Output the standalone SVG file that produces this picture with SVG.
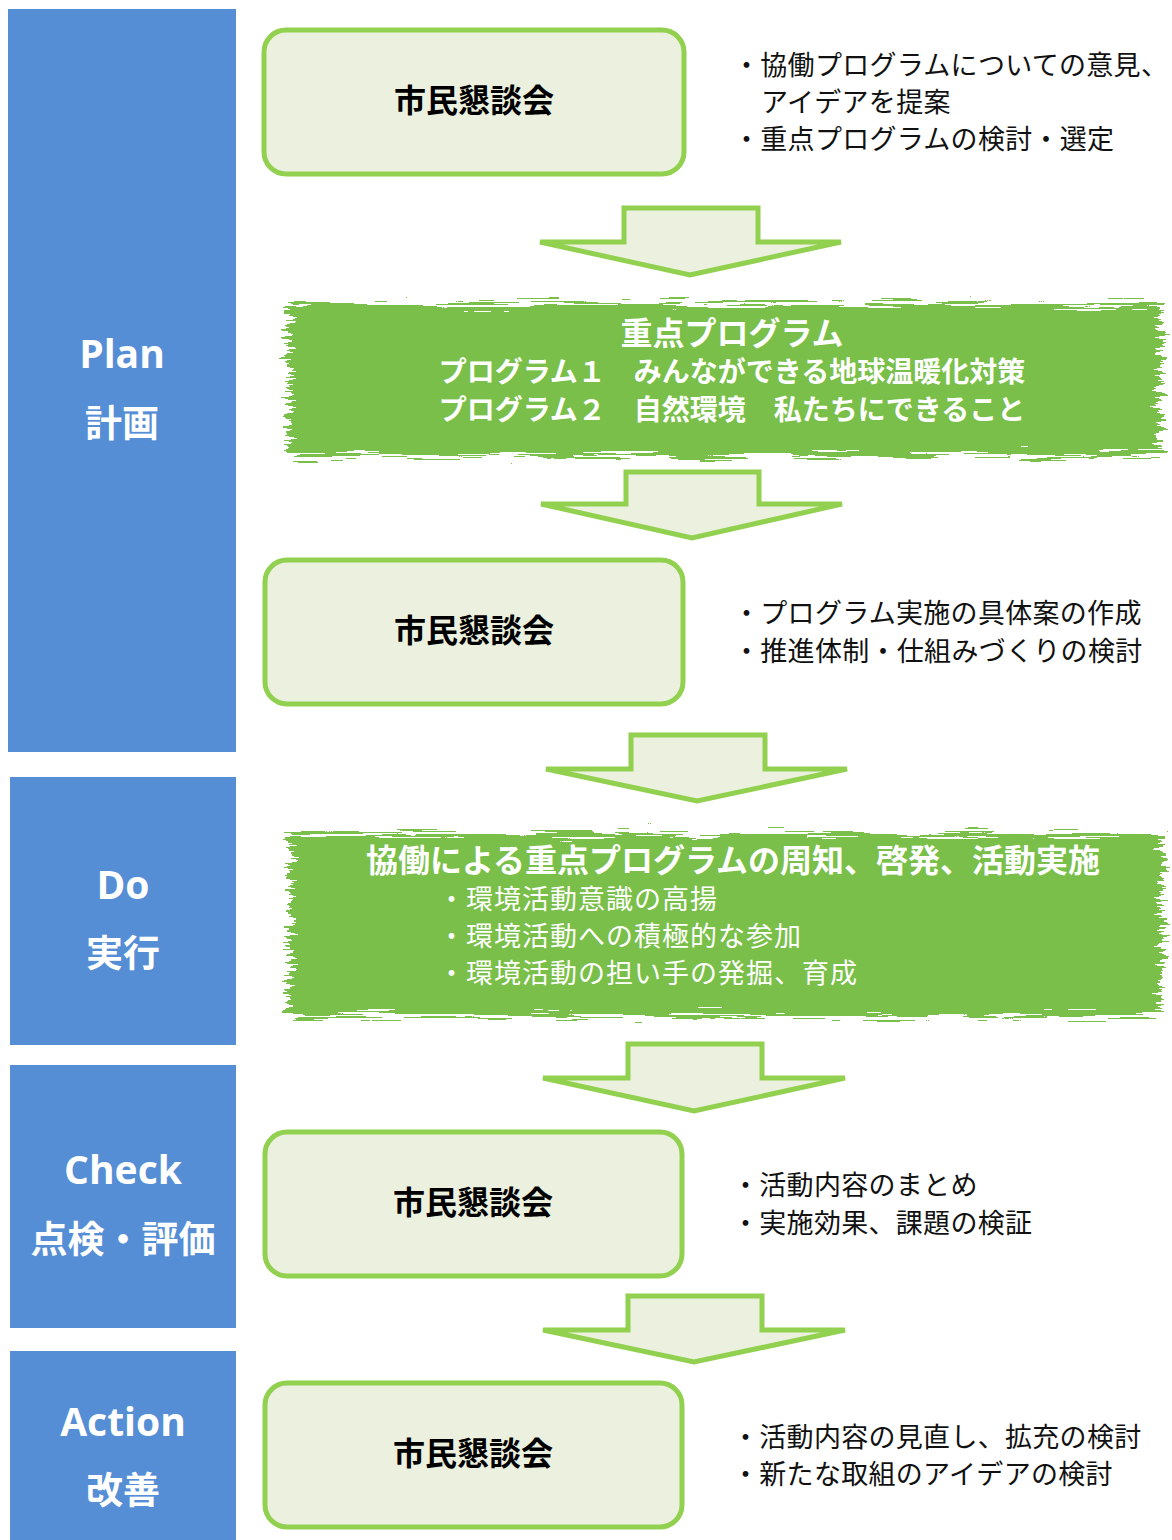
<svg xmlns="http://www.w3.org/2000/svg" width="1172" height="1540" viewBox="0 0 1172 1540">
<defs>
<style>
.phase{fill:#558ed5}
.plbl{fill:#fff;font-family:"Open Sans","Noto Sans","Noto Sans CJK JP",sans-serif;font-weight:700;font-size:39px;text-anchor:middle}
.pjp{fill:#fff;font-family:"Noto Sans CJK JP",sans-serif;font-weight:700;font-size:37px;text-anchor:middle}
.box{fill:#ebf1de;stroke:#92d050;stroke-width:5}
.btitle{fill:#000;font-family:"Noto Sans CJK JP",sans-serif;font-weight:700;font-size:32px;text-anchor:middle}
.note{fill:#111;font-family:"Noto Sans CJK JP",sans-serif;font-size:27px;letter-spacing:0.3px}
.arrow{fill:#ebf1de;stroke:#92d050;stroke-width:5;stroke-linejoin:miter}
.brush{fill:#79bf4a;filter:url(#rough)}
.wt{fill:#fff;font-family:"Noto Sans CJK JP",sans-serif;font-weight:700;text-anchor:middle}
.wn{fill:#fff;font-family:"Noto Sans CJK JP",sans-serif;font-size:27px;letter-spacing:1px}
</style>
<filter id="rough" x="-5%" y="-20%" width="110%" height="140%">
<feTurbulence type="fractalNoise" baseFrequency="0.015 0.35" numOctaves="3" seed="4" result="n"/>
<feDisplacementMap in="SourceGraphic" in2="n" scale="30" xChannelSelector="R" yChannelSelector="G"/>
</filter>
</defs>

<g id="phase-plan">
<rect class="phase" x="8" y="9" width="228" height="743"/>
<text class="plbl" x="122" y="368">Plan</text>
<text class="pjp" x="122" y="437">計画</text>
</g>
<g id="phase-do">
<rect class="phase" x="10" y="777" width="226" height="268"/>
<text class="plbl" x="123" y="899">Do</text>
<text class="pjp" x="123" y="967">実行</text>
</g>
<g id="phase-check">
<rect class="phase" x="10" y="1065" width="226" height="263"/>
<text class="plbl" x="123" y="1184">Check</text>
<text class="pjp" x="123" y="1253">点検・評価</text>
</g>
<g id="phase-action">
<rect class="phase" x="10" y="1351" width="226" height="189"/>
<text class="plbl" x="123" y="1436">Action</text>
<text class="pjp" x="123" y="1504">改善</text>
</g>

<g id="meeting1">
<rect class="box" x="264" y="30" width="420" height="144" rx="22"/>
<text class="btitle" x="474" y="112">市民懇談会</text>
<text class="note" x="733" y="75">・協働プログラムについての意見、</text>
<text class="note" x="761" y="112">アイデアを提案</text>
<text class="note" x="733" y="149">・重点プログラムの検討・選定</text>
</g>

<g id="priority-program">
<rect class="brush" x="289" y="304" width="872" height="152"/>
<text class="wt" x="732" y="345" font-size="32">重点プログラム</text>
<text class="wt" x="732" y="382" font-size="28">プログラム１　みんなができる地球温暖化対策</text>
<text class="wt" x="732" y="420" font-size="28">プログラム２　自然環境　私たちにできること</text>
</g>

<g id="meeting2">
<rect class="box" x="265" y="560" width="418" height="144" rx="22"/>
<text class="btitle" x="474" y="642">市民懇談会</text>
<text class="note" x="733" y="623">・プログラム実施の具体案の作成</text>
<text class="note" x="733" y="661">・推進体制・仕組みづくりの検討</text>
</g>

<g id="do-activities">
<rect class="brush" x="289" y="834" width="872" height="182"/>
<text class="wt" x="733" y="872" font-size="32">協働による重点プログラムの周知、啓発、活動実施</text>
<text class="wn" x="438" y="909">・環境活動意識の高揚</text>
<text class="wn" x="438" y="946">・環境活動への積極的な参加</text>
<text class="wn" x="438" y="983">・環境活動の担い手の発掘、育成</text>
</g>

<g id="meeting3">
<rect class="box" x="265" y="1132" width="417" height="144" rx="22"/>
<text class="btitle" x="473" y="1214">市民懇談会</text>
<text class="note" x="732" y="1195">・活動内容のまとめ</text>
<text class="note" x="732" y="1233">・実施効果、課題の検証</text>
</g>

<g id="meeting4">
<rect class="box" x="265" y="1383" width="417" height="144" rx="22"/>
<text class="btitle" x="473" y="1465">市民懇談会</text>
<text class="note" x="732" y="1447">・活動内容の見直し、拡充の検討</text>
<text class="note" x="732" y="1484">・新たな取組のアイデアの検討</text>
</g>

<g id="connectors">
<polygon class="arrow" points="624,208 758,208 758,242 841,242 690,275 540,242 624,242"/>
<polygon class="arrow" points="626,472 759,472 759,504 842,504 692,538 541,504 626,504"/>
<polygon class="arrow" points="631,735 765,735 765,769 847,769 697,801 546,769 631,769"/>
<polygon class="arrow" points="628,1044 762,1044 762,1078 845,1078 694,1111 543,1078 628,1078"/>
<polygon class="arrow" points="628,1296 762,1296 762,1330 845,1330 694,1362 543,1330 628,1330"/>
</g>
</svg>
